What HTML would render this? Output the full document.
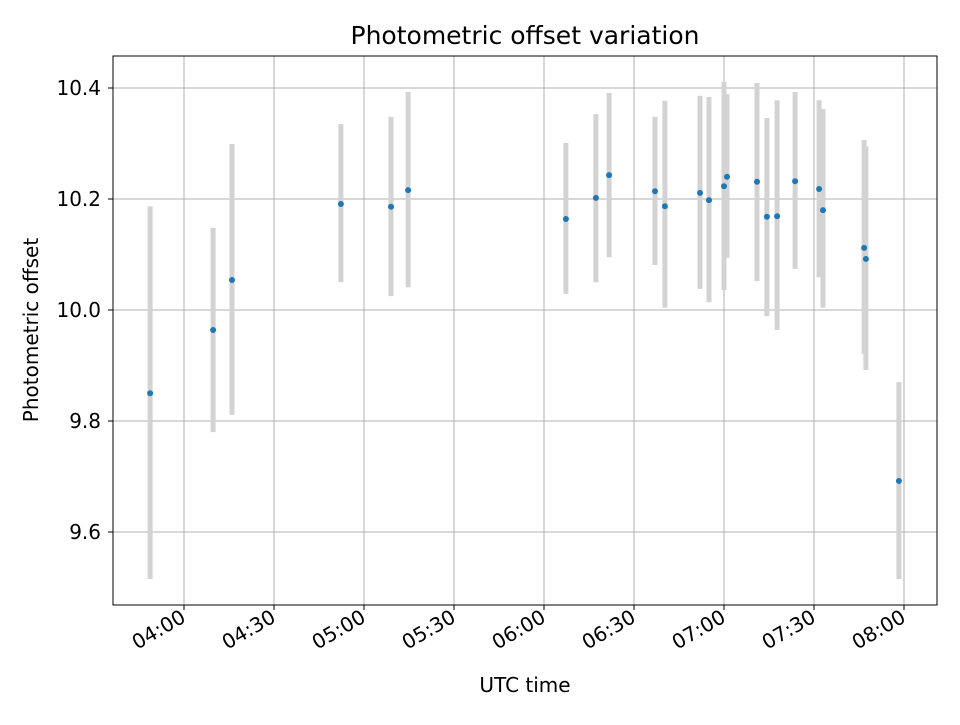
<!DOCTYPE html>
<html><head><meta charset="utf-8"><style>
body{margin:0;background:#fff;}
svg{font-family:"DejaVu Sans","Liberation Sans",sans-serif;}
</style></head><body>
<svg id="chart" width="960" height="720"></svg>
<script>
const times=[-11.3,9.7,16,52.3,69,74.7,127.3,137.3,141.7,157,160.3,172,175,180,181,191,194.3,197.7,203.7,211.7,213,226.7,227.3,238.3];
const values=[9.850,9.964,10.054,10.191,10.186,10.216,10.164,10.202,10.243,10.214,10.187,10.211,10.198,10.223,10.240,10.231,10.168,10.169,10.232,10.218,10.180,10.112,10.092,9.692];
const errTop=[10.187,10.148,10.299,10.335,10.348,10.393,10.301,10.353,10.391,10.348,10.377,10.386,10.384,10.411,10.389,10.409,10.346,10.378,10.393,10.378,10.362,10.306,10.295,9.870];
const errBot=[9.515,9.780,9.811,10.050,10.025,10.041,10.029,10.050,10.095,10.081,10.004,10.038,10.014,10.036,10.094,10.052,9.989,9.964,10.074,10.059,10.004,9.921,9.892,9.515];
const yTicks=[9.6,9.8,10.0,10.2,10.4];
const xTicks=[0,30,60,90,120,150,180,210,240];
const xTickLabels=["04:00","04:30","05:00","05:30","06:00","06:30","07:00","07:30","08:00"];
const L=113,R=937,T=56,B=605;
const X=m=>184+m*3;
const Y=v=>88+(10.4-v)*555;
const svg=document.getElementById('chart');
const NS='http://www.w3.org/2000/svg';
function mk(tag,attrs,parent){const e=document.createElementNS(NS,tag);for(const k in attrs)e.setAttribute(k,attrs[k]);(parent||svg).appendChild(e);return e;}
const grid=mk('g',{});


xTicks.forEach((t,i)=>{
  const x=X(t);
  const g=mk('line',{x1:x,x2:x,y1:T,y2:B,stroke:'#b0b0b0','stroke-width':1},grid);
  
  
  const tk=mk('line',{x1:x,x2:x,y1:B,y2:B+5,stroke:'#000','stroke-width':1});
  
  
  const lx=x+3,ly=B+16;
  const tx=mk('text',{x:lx,y:ly,'font-size':'20','text-anchor':'end',transform:`rotate(-30 ${lx} ${ly})`});
  tx.textContent=xTickLabels[i];
  
  
});
yTicks.forEach(v=>{
  const y=Y(v);
  const g=mk('line',{x1:L,x2:R,y1:y,y2:y,stroke:'#b0b0b0','stroke-width':1},grid);
  
  
  const tk=mk('line',{x1:L-5,x2:L,y1:y,y2:y,stroke:'#000','stroke-width':1});
  
  
  const tx=mk('text',{x:L-12,y:y+7,'font-size':'20','text-anchor':'end'});
  tx.textContent=v.toFixed(1);
  
  
});
times.forEach((t,i)=>{
  const e=mk('line',{x1:X(t),x2:X(t),y1:Y(errTop[i]),y2:Y(errBot[i]),stroke:'#d3d3d3','stroke-width':5});
  
  
});
times.forEach((t,i)=>{
  const c=mk('circle',{cx:X(t),cy:Y(values[i]),r:3,fill:'#1f77b4'});
  
  
});
const frame=mk('rect',{x:L,y:T,width:R-L,height:B-T,fill:'none',stroke:'#000','stroke-width':1});


const title=mk('text',{x:(L+R)/2,y:44,'font-size':'25','text-anchor':'middle'});
title.textContent='Photometric offset variation';


const xl=mk('text',{x:(L+R)/2,y:692,'font-size':'20','text-anchor':'middle'});
xl.textContent='UTC time';


const yc=(T+B)/2+0;
const yl=mk('text',{x:38,y:330,'font-size':'20','text-anchor':'middle',transform:`rotate(-90 38 330)`});
yl.textContent='Photometric offset';


</script>
</body></html>
